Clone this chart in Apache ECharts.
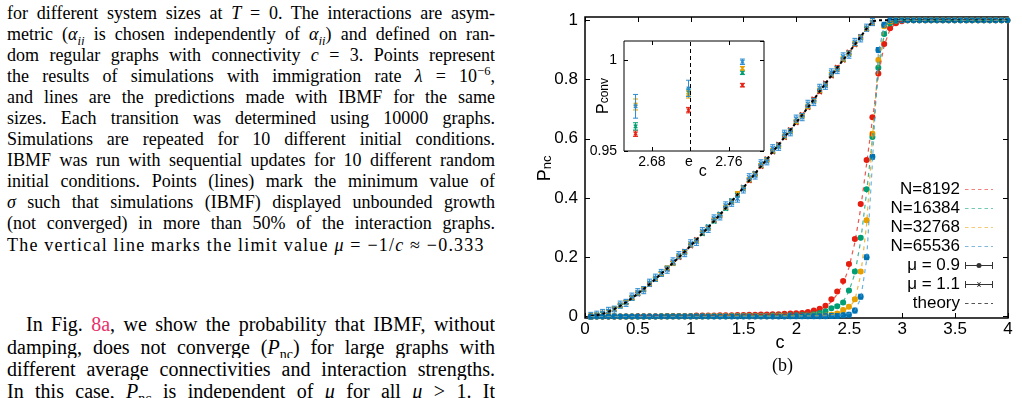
<!DOCTYPE html>
<html>
<head>
<meta charset="utf-8">
<script src="https://cdn.jsdelivr.net/npm/echarts@6/dist/echarts.min.js"></script>
<style>
  html, body { margin: 0; padding: 0; background: #fff; }
  body { width: 1022px; height: 398px; position: relative; overflow: hidden; }
  .txt { position: absolute; left: 7px; width: 488px; font-family: "Liberation Serif", serif; color: #000; }
  .cap { top: 2.5px; font-size: 18px; line-height: 21.1px; }
  .cap .ln { height: 21.1px; }
  .body { top: 313.4px; font-size: 20px; line-height: 22.3px; }
  .body .ln { height: 22.3px; }
  .ln { text-align: justify; text-align-last: justify; overflow: hidden; }
  .ln.last { text-align-last: left; letter-spacing: 1.2px; }
  .ln.ind { padding-left: 19px; }
  sub, sup { line-height: 0; font-size: 70%; }
  .link { color: #e8306b; }
  #chart { position: absolute; left: 520px; top: 0; width: 502px; height: 398px; }
</style>
</head>
<body>
<div class="txt cap">
  <div class="ln">for different system sizes at <i>T</i> = 0. The interactions are asym-</div>
  <div class="ln">metric (<i>α<sub>ij</sub></i> is chosen independently of <i>α<sub>ji</sub></i>) and defined on ran-</div>
  <div class="ln">dom regular graphs with connectivity <i>c</i> = 3. Points represent</div>
  <div class="ln">the results of simulations with immigration rate <i>λ</i> = 10<sup>−6</sup>,</div>
  <div class="ln">and lines are the predictions made with IBMF for the same</div>
  <div class="ln">sizes. Each transition was determined using 10000 graphs.</div>
  <div class="ln">Simulations are repeated for 10 different initial conditions.</div>
  <div class="ln">IBMF was run with sequential updates for 10 different random</div>
  <div class="ln">initial conditions. Points (lines) mark the minimum value of</div>
  <div class="ln"><i>σ</i> such that simulations (IBMF) displayed unbounded growth</div>
  <div class="ln">(not converged) in more than 50% of the interaction graphs.</div>
  <div class="ln last">The vertical line marks the limit value <i>μ</i> = −1/<i>c</i> ≈ −0.333</div>
</div>
<div class="txt body">
  <div class="ln ind">In Fig. <span class="link">8a</span>, we show the probability that IBMF, without</div>
  <div class="ln">damping, does not converge (<i>P</i><sub>nc</sub>) for large graphs with</div>
  <div class="ln">different average connectivities and interaction strengths.</div>
  <div class="ln">In this case, <i>P</i><sub>nc</sub> is independent of <i>μ</i> for all <i>μ</i> &gt; 1. It</div>
</div>
<div id="chart"></div>
<script>
// connectivity grid used by all main-plot points
const cGrid = [0.055,0.111,0.166,0.222,0.277,0.333,0.388,0.444,0.499,0.555,
  0.610,0.666,0.721,0.777,0.832,0.888,0.943,0.999,1.054,1.110,
  1.165,1.220,1.276,1.331,1.387,1.442,1.498,1.553,1.609,1.664,
  1.720,1.775,1.831,1.886,1.942,1.997,2.053,2.108,2.164,2.219,
  2.274,2.330,2.385,2.441,2.496,2.552,2.607,2.663,2.718,2.774,
  2.829,2.885,2.940,2.996,3.051,3.107,3.162,3.218,3.273,3.328,
  3.384,3.439,3.495,3.550,3.606,3.661,3.717,3.772,3.828,3.883,
  3.939,3.994];

const theory = [0.001,0.004,0.009,0.016,0.025,0.036,0.048,0.062,0.077,0.093,
  0.109,0.126,0.144,0.162,0.181,0.200,0.219,0.239,0.259,0.280,
  0.301,0.322,0.344,0.366,0.389,0.412,0.435,0.459,0.483,0.507,
  0.531,0.556,0.580,0.605,0.630,0.655,0.680,0.706,0.733,0.760,
  0.787,0.813,0.840,0.866,0.892,0.918,0.945,0.972,0.997,1,
  1,1,1,1,1,1,1,1,1,1, 1,1,1,1,1,1,1,1,1,1, 1,1];

// mu = 1.1 (crosses), first 49 grid points
const red11 = [0.001,0.004,0.010,0.016,0.024,0.037,0.048,0.063,0.076,0.094,
  0.108,0.127,0.145,0.160,0.182,0.199,0.221,0.238,0.260,0.281,
  0.300,0.324,0.343,0.367,0.390,0.411,0.437,0.458,0.484,0.506,
  0.533,0.555,0.582,0.604,0.631,0.654,0.682,0.705,0.735,0.758,
  0.789,0.812,0.842,0.865,0.893,0.917,0.946,0.970,0.990];
const green11 = [0.001,0.005,0.009,0.017,0.026,0.035,0.049,0.061,0.078,0.092,
  0.110,0.125,0.146,0.163,0.180,0.202,0.218,0.241,0.258,0.279,
  0.303,0.321,0.346,0.364,0.391,0.410,0.436,0.461,0.482,0.509,
  0.530,0.558,0.579,0.607,0.628,0.657,0.679,0.708,0.731,0.762,
  0.785,0.815,0.838,0.868,0.890,0.920,0.943,0.971,0.992];
const orange11 = [0.002,0.005,0.011,0.015,0.026,0.038,0.047,0.064,0.079,0.091,
  0.111,0.128,0.142,0.164,0.179,0.203,0.217,0.242,0.257,0.283,
  0.299,0.326,0.341,0.369,0.387,0.415,0.433,0.462,0.480,0.510,
  0.528,0.560,0.577,0.609,0.626,0.659,0.677,0.710,0.729,0.764,
  0.783,0.817,0.836,0.870,0.888,0.921,0.942,0.973,0.993];
const blue11 = [0.002,0.006,0.012,0.019,0.023,0.040,0.046,0.067,0.082,0.089,
  0.114,0.131,0.147,0.158,0.186,0.207,0.214,0.247,0.252,0.288,
  0.296,0.331,0.338,0.375,0.384,0.398,0.429,0.470,0.476,0.517,
  0.524,0.568,0.573,0.617,0.622,0.668,0.673,0.718,0.724,0.772,
  0.779,0.824,0.832,0.878,0.884,0.927,0.939,0.975,0.994];

// mu = 0.9 (dots)
const red09 = [0,0,0,0,0,0,0,0,0.001,0.001,
  0.001,0.001,0.001,0.002,0.002,0.002,0.002,0.002,0.003,0.003,
  0.003,0.003,0.004,0.004,0.004,0.005,0.005,0.006,0.006,0.007,
  0.007,0.008,0.008,0.009,0.010,0.011,0.012,0.015,0.020,0.026,
  0.036,0.058,0.084,0.120,0.177,0.262,0.380,0.528,0.673,0.820,
  0.920,0.973,0.990,0.997,1,1,1,1,1,1, 1,1,1,1,1,1,1,1,1,1, 1,1];
const green09 = [0,0,0,0,0,0,0,0,0,0,
  0,0,0.001,0.001,0.001,0.001,0.001,0.001,0.001,0.001,
  0.001,0.001,0.001,0.001,0.002,0.002,0.002,0.002,0.002,0.002,
  0.002,0.003,0.003,0.003,0.004,0.004,0.005,0.006,0.008,0.012,
  0.018,0.028,0.035,0.047,0.088,0.152,0.266,0.430,0.606,0.840,
  0.954,0.990,0.998,1,1,1,1,1,1,1, 1,1,1,1,1,1,1,1,1,1, 1,1];
const orange09 = [0,0,0,0,0,0,0,0,0,0,
  0,0,0,0,0,0,0,0,0,0,
  0.001,0.001,0.001,0.001,0.001,0.001,0.001,0.001,0.001,0.001,
  0.001,0.001,0.002,0.002,0.002,0.002,0.002,0.003,0.003,0.003,
  0.004,0.006,0.010,0.022,0.033,0.058,0.152,0.325,0.617,0.866,
  0.980,0.997,1,1,1,1,1,1,1,1, 1,1,1,1,1,1,1,1,1,1, 1,1];
const blue09 = [0,0,0,0,0,0,0,0,0,0,
  0,0,0,0,0,0,0,0,0,0,
  0,0,0,0,0,0,0,0,0,0,
  0,0,0,0,0.001,0.001,0.001,0.001,0.001,0.001,
  0.001,0.002,0.002,0.004,0.006,0.020,0.067,0.200,0.539,0.900,
  0.985,1,1,1,1,1,1,1,1,1, 1,1,1,1,1,1,1,1,1,1, 1,1];

// IBMF predictions (dashed lines)
const lineRed = [0,0,0,0,0,0,0,0,0.001,0.001,
  0.001,0.001,0.001,0.001,0.002,0.002,0.002,0.002,0.002,0.003,
  0.003,0.003,0.003,0.004,0.004,0.004,0.005,0.005,0.006,0.006,
  0.007,0.007,0.008,0.009,0.009,0.010,0.011,0.013,0.017,0.023,
  0.032,0.050,0.075,0.110,0.165,0.250,0.365,0.515,0.665,0.815,
  0.915,0.970,0.990,0.997,1,1,1,1,1,1, 1,1,1,1,1,1,1,1,1,1, 1,1];
const lineGreen = [0,0,0,0,0,0,0,0,0,0,
  0,0,0,0.001,0.001,0.001,0.001,0.001,0.001,0.001,
  0.001,0.001,0.001,0.001,0.001,0.002,0.002,0.002,0.002,0.002,
  0.002,0.002,0.003,0.003,0.003,0.004,0.004,0.005,0.007,0.010,
  0.015,0.022,0.032,0.050,0.085,0.145,0.255,0.420,0.600,0.830,
  0.950,0.990,0.998,1,1,1,1,1,1,1, 1,1,1,1,1,1,1,1,1,1, 1,1];
const lineOrange = [0,0,0,0,0,0,0,0,0,0,
  0,0,0,0,0,0,0,0,0,0,
  0,0,0.001,0.001,0.001,0.001,0.001,0.001,0.001,0.001,
  0.001,0.001,0.001,0.002,0.002,0.002,0.002,0.002,0.003,0.003,
  0.004,0.006,0.010,0.018,0.030,0.055,0.140,0.310,0.600,0.860,
  0.975,0.996,1,1,1,1,1,1,1,1, 1,1,1,1,1,1,1,1,1,1, 1,1];
const lineBlue = [0,0,0,0,0,0,0,0,0,0,
  0,0,0,0,0,0,0,0,0,0,
  0,0,0,0,0,0,0,0,0,0,
  0,0,0,0,0,0.001,0.001,0.001,0.001,0.001,
  0.002,0.003,0.004,0.006,0.010,0.020,0.060,0.190,0.520,0.890,
  0.982,1,1,1,1,1,1,1,1,1, 1,1,1,1,1,1,1,1,1,1, 1,1];

// inset: P_conv near c = e
const insetC = [2.663, 2.718, 2.774];
const insetRed = [0.9595, 0.9724, 0.9861];
const insetGreen = [0.9635, 0.9820, 0.9929];
const insetOrange = [0.9755, 0.9810, 0.9953];
const insetBlue = [0.9745, 0.9843, 0.9989];
const insetErrRed = [0.0015, 0.0015, 0.001];
const insetErrGreen = [0.002, 0.002, 0.001];
const insetErrOrange = [0.003, 0.002, 0.001];
const insetErrBlue = [0.0065, 0.0045, 0.0015];

const insetXTicks = [2.68, 2.76];
const insetXLabels = [2.68, Math.E, 2.76];

const RED = '#e51e10', GREEN = '#009e73', ORANGE = '#e69f00', BLUE = '#0072b2', LBLUE = '#2a8bd0';
const SANS = '"Liberation Sans", Arial, sans-serif';

// legend glyphs, drawn in a 28 x 8 box (corner specks keep the box size)
const BOX = 'M0,0H0.01V0.01H0Z M27.99,7.99H28V8H27.99Z ';
const DASH_ICON = 'path://' + BOX + 'M0,3.4H3.5V4.6H0Z M6.5,3.4H10V4.6H6.5Z M13,3.4H16.5V4.6H13Z M19.5,3.4H23V4.6H19.5Z M26,3.4H28V4.6H26Z';
const BAR = 'M0,3.5H28V4.5H0Z M0,0.5H1V7.5H0Z M27,0.5H28V7.5H27Z ';
const DOT_ICON = 'path://' + BOX + BAR + 'M11.5,4A2.5,2.5 0 1 1 16.5,4A2.5,2.5 0 1 1 11.5,4Z';
const CROSS_ICON = 'path://' + BOX + BAR + 'M12,1.5L12.9,1.5L16,6.5L15.1,6.5Z M15.1,1.5L16,1.5L12.9,6.5L12,6.5Z';

function makeRender(color, mark, r, cap) {
  return function (params, api) {
    const c = api.value(0), v = api.value(1), e = api.value(2);
    const p = api.coord([c, v]);
    const kids = [];
    const st = { stroke: color, lineWidth: 1 };
    if (e > 0 && v > 0 && v < 1) {
      const hi = api.coord([c, v + e])[1], lo = api.coord([c, v - e])[1];
      kids.push({ type: 'line', shape: { x1: p[0], y1: hi, x2: p[0], y2: lo }, style: st });
      kids.push({ type: 'line', shape: { x1: p[0] - cap, y1: hi, x2: p[0] + cap, y2: hi }, style: st });
      kids.push({ type: 'line', shape: { x1: p[0] - cap, y1: lo, x2: p[0] + cap, y2: lo }, style: st });
    }
    if (mark === 'dot') {
      kids.push({ type: 'circle', shape: { cx: p[0], cy: p[1], r: r }, style: { fill: color } });
    } else {
      const sw = { stroke: color, lineWidth: 1.3 };
      kids.push({ type: 'line', shape: { x1: p[0] - r, y1: p[1] - r, x2: p[0] + r, y2: p[1] + r }, style: sw });
      kids.push({ type: 'line', shape: { x1: p[0] - r, y1: p[1] + r, x2: p[0] + r, y2: p[1] - r }, style: sw });
    }
    return { type: 'group', children: kids };
  };
}

function points(name, xs, ys, err, color, mark, r, cap, xi, yi) {
  return {
    name: name, type: 'custom', xAxisIndex: xi, yAxisIndex: yi, clip: false, silent: true,
    renderItem: makeRender(color, mark, r, cap),
    encode: { x: 0, y: 1 },
    data: ys.map((v, i) => [xs[i], v, Array.isArray(err) ? err[i] : err])
  };
}

function dashed(name, ys, color) {
  return {
    name: name, type: 'line', xAxisIndex: 2, yAxisIndex: 1, symbol: 'none', silent: true, clip: false,
    color: color, lineStyle: { color: color, width: 1.2, type: [4, 4], opacity: 0.75 },
    data: ys.map((v, i) => [cGrid[i], v])
  };
}

const tickStyle = { color: '#000', width: 1 };
const noAxis = { show: false };

const chart = echarts.init(document.getElementById('chart'), null, { renderer: 'canvas' });
chart.setOption({
  animation: false,
  grid: [
    // frame of the main plot (ticks of c)
    { left: 65, top: 17, width: 423, height: 301, show: true, borderColor: '#000', borderWidth: 1.5, backgroundColor: 'transparent' },
    // data area of the main plot: P from 0 to 1
    { left: 65, top: 20.3, width: 423, height: 296.2, show: false },
    // inset
    { left: 104, top: 41, width: 140, height: 110, show: true, borderColor: '#000', borderWidth: 1, backgroundColor: '#fff' }
  ],
  xAxis: [
    { gridIndex: 0, type: 'value', min: 0, max: 4, interval: 0.5, position: 'bottom',
      axisLine: { show: false }, splitLine: { show: false },
      axisTick: { inside: true, length: 5, lineStyle: tickStyle },
      axisLabel: { fontSize: 17, color: '#000', fontFamily: SANS, margin: 3 } },
    { gridIndex: 0, type: 'value', min: 0, max: 4, interval: 0.5, position: 'top',
      axisLine: { show: false }, splitLine: { show: false },
      axisTick: { inside: true, length: 5, lineStyle: tickStyle }, axisLabel: { show: false } },
    Object.assign({ gridIndex: 1, type: 'value', min: 0, max: 4 }, noAxis),
    { gridIndex: 2, type: 'value', min: 2.651, max: 2.7964, position: 'bottom',
      axisLine: { show: false }, splitLine: { show: false },
      axisTick: { inside: false, length: -4, customValues: insetXTicks, lineStyle: tickStyle },
      axisLabel: { customValues: insetXLabels, fontSize: 14, color: '#000', fontFamily: SANS, margin: 4,
        formatter: v => (Math.abs(v - Math.E) < 1e-6 ? 'e' : v.toFixed(2)) } },
    { gridIndex: 2, type: 'value', min: 2.651, max: 2.7964, position: 'top',
      axisLine: { show: false }, splitLine: { show: false },
      axisTick: { inside: false, length: -4, customValues: insetXTicks, lineStyle: tickStyle },
      axisLabel: { show: false } }
  ],
  yAxis: [
    Object.assign({ gridIndex: 0, type: 'value', min: 0, max: 1 }, noAxis),
    { gridIndex: 1, type: 'value', min: 0, max: 1, interval: 0.2, position: 'left',
      axisLine: { show: false }, splitLine: { show: false },
      axisTick: { inside: true, length: 5, lineStyle: tickStyle },
      axisLabel: { fontSize: 17, color: '#000', fontFamily: SANS, margin: 7 },
      name: '{p|P}{s|nc}', nameLocation: 'middle', nameGap: 31, nameMoveOverlap: false,
      nameTextStyle: { rich: {
        p: { fontSize: 18, color: '#000', fontFamily: SANS, lineHeight: 17 },
        s: { fontSize: 13, color: '#000', fontFamily: SANS, lineHeight: 13, padding: [8, 0, 0, 0], verticalAlign: 'bottom' }
      } } },
    { gridIndex: 1, type: 'value', min: 0, max: 1, interval: 0.2, position: 'right',
      axisLine: { show: false }, splitLine: { show: false },
      axisTick: { inside: true, length: 5, lineStyle: tickStyle },
      axisLabel: { show: false } },
    { gridIndex: 2, type: 'value', min: 0.95, max: 1.0103, interval: 0.05, position: 'left',
      axisLine: { show: false }, splitLine: { show: false },
      axisTick: { inside: true, length: 4, lineStyle: tickStyle },
      axisLabel: { fontSize: 14, color: '#000', fontFamily: SANS, margin: 7, showMaxLabel: false },
      name: '{p|P}{s|conv}', nameLocation: 'middle', nameGap: 13, nameMoveOverlap: false,
      nameTextStyle: { rich: {
        p: { fontSize: 16, color: '#000', fontFamily: SANS, lineHeight: 15 },
        s: { fontSize: 12, color: '#000', fontFamily: SANS, lineHeight: 12, padding: [7, 0, 0, 0], verticalAlign: 'bottom' }
      } } },
    { gridIndex: 2, type: 'value', min: 0.95, max: 1.0103, interval: 0.05, position: 'right',
      axisLine: { show: false }, splitLine: { show: false },
      axisTick: { inside: true, length: 4, lineStyle: tickStyle },
      axisLabel: { show: false } }
  ],
  legend: {
    orient: 'vertical', right: 24, top: 175, align: 'right',
    itemWidth: 28, itemHeight: 8, itemGap: 0, selectedMode: false,
    textStyle: { fontSize: 17, color: '#000', fontFamily: SANS, lineHeight: 19 },
    data: [
      { name: 'N=8192', icon: DASH_ICON, itemStyle: { color: 'rgba(229,30,16,0.55)' } },
      { name: 'N=16384', icon: DASH_ICON, itemStyle: { color: 'rgba(0,158,115,0.55)' } },
      { name: 'N=32768', icon: DASH_ICON, itemStyle: { color: 'rgba(230,159,0,0.55)' } },
      { name: 'N=65536', icon: DASH_ICON, itemStyle: { color: 'rgba(0,114,178,0.5)' } },
      { name: 'μ = 0.9', icon: DOT_ICON, itemStyle: { color: '#333' } },
      { name: 'μ = 1.1', icon: CROSS_ICON, itemStyle: { color: '#333' } },
      { name: 'theory', icon: DASH_ICON, itemStyle: { color: '#555' } }
    ]
  },
  graphic: [
    // x-axis titles of the main plot and the inset
    { type: 'text', x: 260, y: 343, silent: true,
      style: { text: 'c', fontSize: 18, fontFamily: SANS, fill: '#000', align: 'center', verticalAlign: 'middle' } },
    { type: 'text', x: 182.7, y: 172, silent: true,
      style: { text: 'c', fontSize: 16, fontFamily: SANS, fill: '#000', align: 'center', verticalAlign: 'middle' } },
    { type: 'text', x: 262.5, y: 366.7, silent: true,
      style: { text: '(b)', fontSize: 18, fontFamily: '"Liberation Serif", serif', fill: '#000', align: 'center', verticalAlign: 'middle' } }
  ],
  series: [
    { name: 'μ = 0.9', type: 'line', data: [], color: '#333', symbol: 'none', xAxisIndex: 2, yAxisIndex: 1 },
    { name: 'μ = 1.1', type: 'line', data: [], color: '#333', symbol: 'none', xAxisIndex: 2, yAxisIndex: 1 },
    points('x11-8192', cGrid, red11, 0.004, RED, 'cross', 2.2, 2.5, 2, 1),
    points('x11-16384', cGrid, green11, 0.005, GREEN, 'cross', 2.2, 2.5, 2, 1),
    points('x11-32768', cGrid, orange11, 0.007, ORANGE, 'cross', 2.2, 2.5, 2, 1),
    points('x11-65536', cGrid, blue11, 0.012, LBLUE, 'cross', 2.2, 2.5, 2, 1),
    { name: 'theory', type: 'line', xAxisIndex: 2, yAxisIndex: 1, symbol: 'none', silent: true, clip: false,
      color: '#000', lineStyle: { color: '#000', width: 2, type: [3, 3] },
      data: theory.map((v, i) => [cGrid[i], v]) },
    dashed('N=8192', lineRed, RED),
    dashed('N=16384', lineGreen, GREEN),
    dashed('N=32768', lineOrange, ORANGE),
    dashed('N=65536', lineBlue, '#3b9ad8'),
    points('d09-8192', cGrid, red09, 0.004, RED, 'dot', 3, 2.5, 2, 1),
    points('d09-16384', cGrid, green09, 0.005, GREEN, 'dot', 3, 2.5, 2, 1),
    points('d09-32768', cGrid, orange09, 0.006, ORANGE, 'dot', 3, 2.5, 2, 1),
    points('d09-65536', cGrid, blue09, 0.008, BLUE, 'dot', 3, 2.5, 2, 1),
    Object.assign(points('in-8192', insetC, insetRed, insetErrRed, RED, 'cross', 1.8, 2.5, 3, 3), {
      markLine: { silent: true, symbol: ['none', 'none'], label: { show: false },
        lineStyle: { color: '#000', type: [4, 3], width: 1 }, data: [{ xAxis: Math.E }] }
    }),
    points('in-16384', insetC, insetGreen, insetErrGreen, GREEN, 'cross', 1.8, 2.5, 3, 3),
    points('in-32768', insetC, insetOrange, insetErrOrange, ORANGE, 'cross', 1.8, 2.5, 3, 3),
    points('in-65536', insetC, insetBlue, insetErrBlue, LBLUE, 'cross', 1.8, 2.5, 3, 3)
  ]
});
</script>
</body>
</html>
